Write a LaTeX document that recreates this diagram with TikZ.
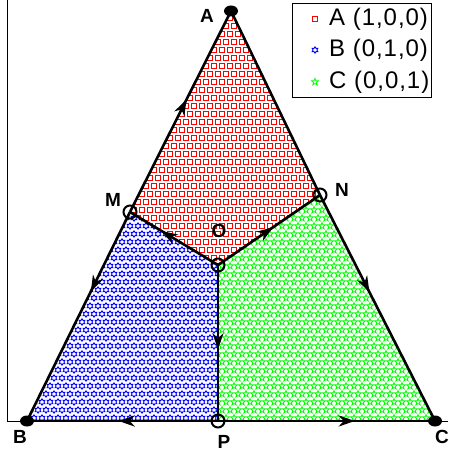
\documentclass[tikz,border=0pt]{standalone}
\usepackage{fontspec}
\setmainfont{Liberation Sans}
\usetikzlibrary{arrows.meta,decorations.markings,shapes.geometric}
\newcommand\sqmark[2]{\draw[red,line width=0.8pt] (#1-2.4,#2-2.4) rectangle (#1+2.4,#2+2.4);}
\newcommand\hexmark[2]{\draw[blue,line width=0.8pt] (#1,#2) +(90:3.3) -- +(120:1.9) -- +(150:3.3) -- +(180:1.9) -- +(210:3.3) -- +(240:1.9) -- +(270:3.3) -- +(300:1.9) -- +(330:3.3) -- +(0:1.9) -- +(30:3.3) -- +(60:1.9) -- cycle;}
\newcommand\starmark[2]{\draw[green,line width=0.8pt] (#1,#2) +(270:3.6) -- +(306:1.5) -- +(342:3.6) -- +(18:1.5) -- +(54:3.6) -- +(90:1.5) -- +(126:3.6) -- +(162:1.5) -- +(198:3.6) -- +(234:1.5) -- cycle;}
\tikzset{
  edge/.style={line width=2.6pt,black},
  ring/.style={circle,draw=black,line width=2pt,minimum size=13pt,inner sep=0pt,fill=none},
  dot/.style={ellipse,fill=black,minimum width=14pt,minimum height=11pt,inner sep=0pt},
  lab/.style={font=\bfseries\fontsize{19}{19}\selectfont,inner sep=0pt},
  legtext/.style={font=\addfontfeatures{LetterSpace=4}\fontsize{24}{24}\selectfont,anchor=west,inner sep=0pt},
  midarrow/.style={postaction={decorate,decoration={markings,mark=at position #1 with {\arrow{Stealth[length=16pt,width=11pt,inset=5pt]}}}}}
}
\begin{document}
\begin{tikzpicture}[x=1pt,y=-1pt]
\useasboundingbox (0,0) rectangle (448,457);
\coordinate (A) at (231,11);
\coordinate (B) at (27,421);
\coordinate (C) at (435,421);
\coordinate (M) at (130,212);
\coordinate (N) at (320,195);
\coordinate (O) at (218,265);
\coordinate (P) at (218,421);
% axes
\draw[line width=1pt] (7,0) -- (7,421) -- (448,421);
% patterns
\begin{scope}
\clip (A) -- (N) -- (O) -- (M) -- cycle;
\foreach \j in {0,...,33} {
  \pgfmathsetmacro\yy{8*\j+10}
  \pgfmathsetmacro\off{4*mod(\j,2)}
  \foreach \i [evaluate=\i as \xx using 8*\i+\off+2] in {15,...,41} { \sqmark{\xx}{\yy} }
}
\end{scope}
\begin{scope}
\clip (M) -- (O) -- (P) -- (B) -- cycle;
\foreach \j in {25,...,53} {
  \pgfmathsetmacro\yy{8*\j+2}
  \pgfmathsetmacro\off{4*mod(\j,2)}
  \foreach \i [evaluate=\i as \xx using 8*\i+\off+2] in {2,...,28} { \hexmark{\xx}{\yy} }
}
\end{scope}
\begin{scope}
\clip (N) -- (C) -- (P) -- (O) -- cycle;
\foreach \j in {23,...,53} {
  \pgfmathsetmacro\yy{8*\j+2}
  \pgfmathsetmacro\off{4*mod(\j,2)}
  \foreach \i [evaluate=\i as \xx using 8*\i+\off+2] in {26,...,55} { \starmark{\xx}{\yy} }
}
\end{scope}
% edges
\draw[edge] (A) -- (N);
\draw[edge,midarrow=0.43] (N) -- (C);
\draw[edge,midarrow=0.56] (M) -- (A);
\draw[edge,midarrow=0.38] (M) -- (B);
\draw[edge,midarrow=0.64] (O) -- (M);
\draw[edge,midarrow=0.54] (O) -- (N);
\draw[edge,midarrow=0.54] (O) -- (P);
\draw[edge,midarrow=0.52] (P) -- (B);
\draw[edge,midarrow=0.63] (P) -- (C);
% markers
\node[dot] (dA) at (A) {};
\node[dot] (dB) at (B) {};
\node[dot] (dC) at (C) {};
\node[ring] (rM) at (M) {};
\node[ring] (rN) at (N) {};
\node[ring] (rO) at (O) {};
\node[ring] (rP) at (P) {};
% labels
\node[lab] (lA) at (207,16) {A};
\node[lab] (lB) at (20,437) {B};
\node[lab] (lC) at (442,437) {C};
\node[lab] (lM) at (113,200) {M};
\node[lab] (lN) at (342,190) {N};
\node[lab] (lO) at (219,231) {O};
\node[lab] (lP) at (224,442) {P};
% legend
\draw[fill=white,line width=0.9pt] (292,3) rectangle (431,97);
\sqmark{315}{19}
\hexmark{315}{50}
\starmark{315}{82}
\node[legtext] (tA) at (329,19) {A (1,0,0)};
\node[legtext] (tB) at (329,50) {B (0,1,0)};
\node[legtext] (tC) at (329,82) {C (0,0,1)};
\end{tikzpicture}
\end{document}
